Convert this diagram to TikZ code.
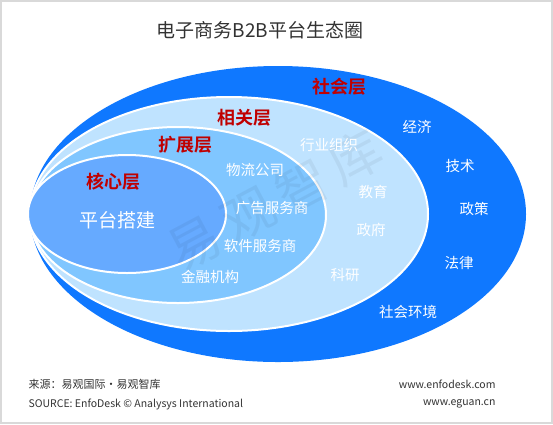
\documentclass[tikz,border=0pt]{standalone}
\usepackage{fontspec}
\setmainfont{Noto Sans CJK SC}
\newfontfamily\cjk{Noto Sans CJK SC}
\newfontfamily\cjkb{Noto Sans CJK SC Bold}
\definecolor{socialc}{HTML}{0F78FF}
\definecolor{relc}{HTML}{BFE3FF}
\definecolor{extc}{HTML}{80C6FF}
\definecolor{corec}{HTML}{66AAFF}
\definecolor{layred}{HTML}{C00000}
\definecolor{txtgray}{HTML}{333333}
\begin{document}
\begin{tikzpicture}[x=1pt,y=-1pt,
  layer/.style={font=\cjkb\fontsize{18}{18}\selectfont, text=layred, inner sep=0pt},
  item/.style={font=\cjk\fontsize{14.5}{14.5}\selectfont, text=white, inner sep=0pt},
  foot/.style={font=\cjk\fontsize{10.5}{11}\selectfont, text=txtgray},
  ring/.style={draw=white, line width=2pt}]
\useasboundingbox (0,0) rectangle (553,424);
\fill[white] (0,0) rectangle (553,424);
\draw[color=black!15, line width=2pt] (1,1) rectangle (552,423);
% title
\node[font=\cjk\fontsize{19}{19}\selectfont, text=txtgray] (title) at (260,30) {电子商务B2B平台生态圈};
% ellipses
\fill[socialc] (278,214) ellipse [x radius=248, y radius=148];
\fill[relc, ring] (229,214) ellipse [x radius=199, y radius=117];
\fill[extc, ring] (178,215) ellipse [x radius=148, y radius=88];
\fill[corec, ring] (127,214) ellipse [x radius=99, y radius=59];
% watermark
\node[font=\cjk\fontsize{52}{52}\selectfont, text=black, opacity=0.05, rotate=28] (wm) at (275,200) {易\,观\,智\,库};
% layer labels
\node[layer] (l4) at (339,87) {社会层};
\node[layer] (l3) at (244,118) {相关层};
\node[layer] (l2) at (185,145) {扩展层};
\node[layer] (l1) at (113,182) {核心层};
\node[font=\cjk\fontsize{19}{19}\selectfont, text=white] (core) at (117,220) {平台搭建};
% extension items
\node[item] (e1) at (255,170) {物流公司};
\node[item] (e2) at (272,208) {广告服务商};
\node[item] (e3) at (260,246) {软件服务商};
\node[item] (e4) at (210,277) {金融机构};
% related items
\node[item] (r1) at (329,145) {行业组织};
\node[item] (r2) at (373,192) {教育};
\node[item] (r3) at (371,230) {政府};
\node[item] (r4) at (345,275) {科研};
% social items
\node[item] (s1) at (417,127) {经济};
\node[item] (s2) at (460,166) {技术};
\node[item] (s3) at (474,209) {政策};
\node[item] (s4) at (459,263) {法律};
\node[item] (s5) at (408,312) {社会环境};
% footer
\node[foot, anchor=west, font=\cjk\fontsize{11}{11}\selectfont] (f1) at (25,384) {来源：易观国际·易观智库};
\node[foot, anchor=west] (f2) at (25,404) {SOURCE: EnfoDesk © Analysys International};
\node[foot, anchor=east] (f3) at (499,384) {www.enfodesk.com};
\node[foot, anchor=east] (f4) at (499,404) {www.eguan.cn};
\end{tikzpicture}
\end{document}
